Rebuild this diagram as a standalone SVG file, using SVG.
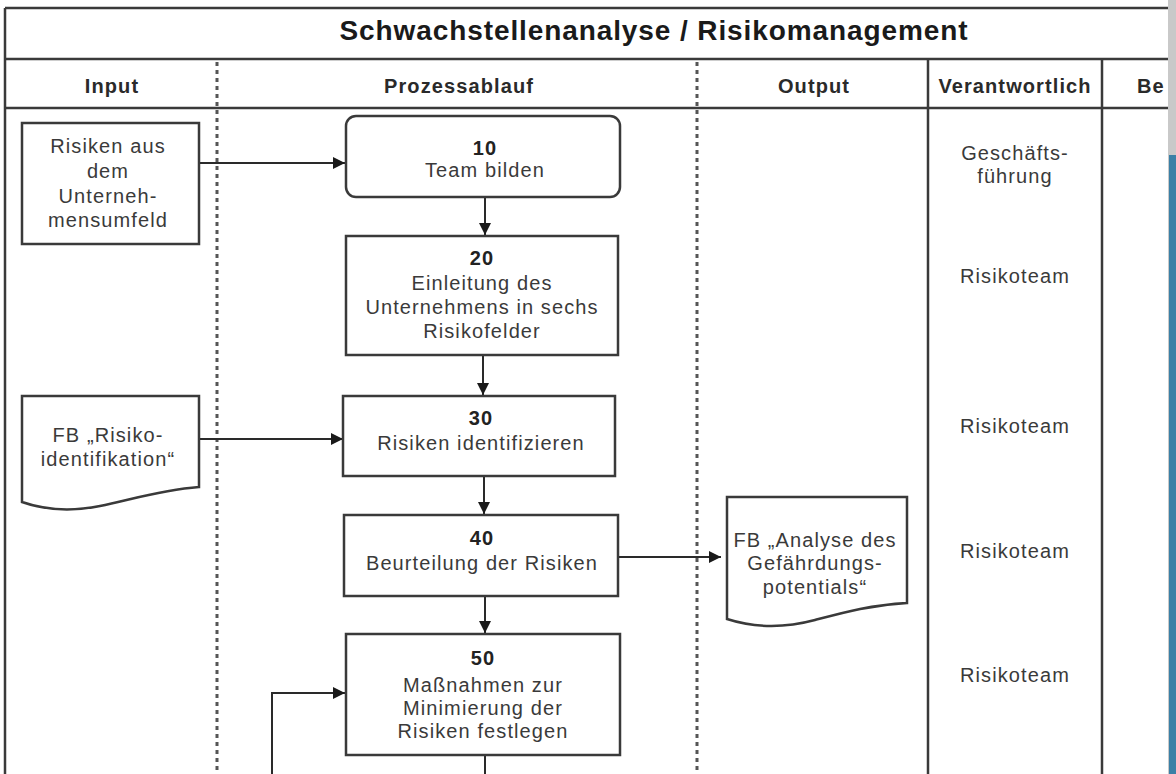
<svg xmlns="http://www.w3.org/2000/svg" width="1176" height="774" viewBox="0 0 1176 774">
<defs>
<marker id="ah" viewBox="0 0 12 12" refX="12" refY="6" markerWidth="12" markerHeight="12" markerUnits="userSpaceOnUse" orient="auto">
<path d="M0,0 L12,6 L0,12 z" fill="#1a1a1a"/>
</marker>
<style>
.frame{stroke:#3a3a3a;stroke-width:2.5;fill:none}
.dash{stroke:#555;stroke-width:3;stroke-dasharray:4 4;fill:none}
.box{fill:#fff;stroke:#3a3a3a;stroke-width:2.5}
.conn{stroke:#2a2a2a;stroke-width:2;fill:none}
.t{font-family:"Liberation Sans",Arial,sans-serif;font-size:20px;letter-spacing:1.1px;fill:#3a3a3a;text-anchor:middle}
.b{font-weight:bold;fill:#222}
.h{font-family:"Liberation Sans",Arial,sans-serif;font-size:20px;letter-spacing:1.1px;font-weight:bold;fill:#2a2a2a;text-anchor:middle}
.title{font-family:"Liberation Sans",Arial,sans-serif;font-size:28px;letter-spacing:0.9px;font-weight:bold;fill:#1a1a1a;text-anchor:middle}
</style>
</defs>
<rect x="0" y="0" width="1176" height="774" fill="#fff"/>
<rect x="1168" y="0" width="8" height="774" fill="#c9c9c9"/>
<rect x="1169" y="155" width="7" height="619" fill="#3b80a6"/>

<g id="table">
<line class="frame" x1="5" y1="8" x2="1168" y2="8"/>
<line class="frame" x1="5" y1="59" x2="1168" y2="59"/>
<line class="frame" x1="5" y1="108" x2="1168" y2="108"/>
<line class="frame" x1="5" y1="8" x2="5" y2="774"/>
<line class="frame" x1="928" y1="59" x2="928" y2="774"/>
<line class="frame" x1="1102" y1="59" x2="1102" y2="774"/>
<line class="dash" x1="217" y1="62" x2="217" y2="774"/>
<line class="dash" x1="697" y1="62" x2="697" y2="774"/>
<text class="title" x="654" y="40">Schwachstellenanalyse / Risikomanagement</text>
<text class="h" x="112" y="93">Input</text>
<text class="h" x="459" y="93">Prozessablauf</text>
<text class="h" x="814" y="93">Output</text>
<text class="h" x="1015" y="93">Verantwortlich</text>
<text class="h" x="1137" y="93" style="text-anchor:start">Be</text>
</g>

<g id="connectors">
<line class="conn" x1="199" y1="163" x2="345" y2="163" marker-end="url(#ah)"/>
<line class="conn" x1="485" y1="197" x2="485" y2="235" marker-end="url(#ah)"/>
<line class="conn" x1="483" y1="355" x2="483" y2="395" marker-end="url(#ah)"/>
<line class="conn" x1="199" y1="439" x2="343" y2="439" marker-end="url(#ah)"/>
<line class="conn" x1="484" y1="476" x2="484" y2="514" marker-end="url(#ah)"/>
<line class="conn" x1="618" y1="557" x2="721" y2="557" marker-end="url(#ah)"/>
<line class="conn" x1="485" y1="596" x2="485" y2="633" marker-end="url(#ah)"/>
<polyline class="conn" points="272,774 272,693 345,693" marker-end="url(#ah)"/>
<line class="conn" x1="485" y1="755" x2="485" y2="774"/>
</g>

<g id="in1">
<rect class="box" x="22" y="123" width="177" height="121"/>
<text class="t" x="108" y="153">Risiken aus</text>
<text class="t" x="108" y="178">dem</text>
<text class="t" x="108" y="203">Unterneh-</text>
<text class="t" x="108" y="227">mensumfeld</text>
</g>

<g id="in2">
<path class="box" d="M22,396 H199 V487 C160,490 130,500 100,506 C70,512 45,510 22,502 Z"/>
<text class="t" x="108" y="442">FB „Risiko-</text>
<text class="t" x="108" y="466">identifikation“</text>
</g>

<g id="n10">
<rect class="box" x="346" y="116" width="274" height="81" rx="10" ry="10"/>
<text class="t b" x="485" y="155">10</text>
<text class="t" x="485" y="177">Team bilden</text>
</g>

<g id="n20">
<rect class="box" x="346" y="236" width="272" height="119"/>
<text class="t b" x="482" y="265">20</text>
<text class="t" x="482" y="290">Einleitung des</text>
<text class="t" x="482" y="314">Unternehmens in sechs</text>
<text class="t" x="482" y="338">Risikofelder</text>
</g>

<g id="n30">
<rect class="box" x="343" y="396" width="272" height="80"/>
<text class="t b" x="481" y="425">30</text>
<text class="t" x="481" y="450">Risiken identifizieren</text>
</g>

<g id="n40">
<rect class="box" x="344" y="515" width="274" height="81"/>
<text class="t b" x="482" y="545">40</text>
<text class="t" x="482" y="570">Beurteilung der Risiken</text>
</g>

<g id="n50">
<rect class="box" x="346" y="634" width="274" height="121"/>
<text class="t b" x="483" y="665">50</text>
<text class="t" x="483" y="692">Maßnahmen zur</text>
<text class="t" x="483" y="715">Minimierung der</text>
<text class="t" x="483" y="738">Risiken festlegen</text>
</g>

<g id="out1">
<path class="box" d="M727,497 H907 V603 C870,605 845,612 815,620 C785,628 755,628 727,619 Z"/>
<text class="t" x="815" y="547">FB „Analyse des</text>
<text class="t" x="815" y="570">Gefährdungs-</text>
<text class="t" x="815" y="594">potentials“</text>
</g>

<g id="resp">
<text class="t" x="1015" y="160">Geschäfts-</text>
<text class="t" x="1015" y="183">führung</text>
<text class="t" x="1015" y="283">Risikoteam</text>
<text class="t" x="1015" y="433">Risikoteam</text>
<text class="t" x="1015" y="558">Risikoteam</text>
<text class="t" x="1015" y="682">Risikoteam</text>
</g>
</svg>
